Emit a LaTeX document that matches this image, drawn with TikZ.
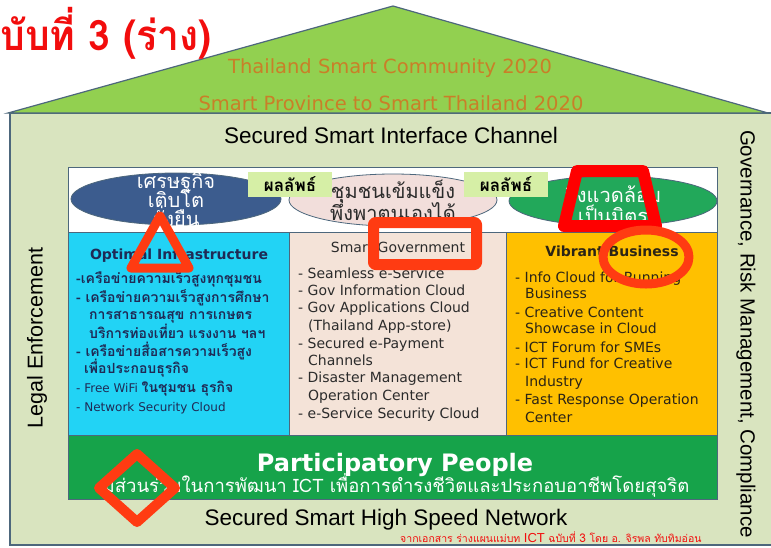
\documentclass[tikz,border=0pt]{standalone}
\usepackage{fontspec}
\setmainfont{Liberation Sans}
\newfontfamily\thaifont[Script=Thai]{Loma}
\newfontfamily\titlefont[Script=Thai,FakeStretch=0.93]{Loma}
\newfontfamily\tahfont{DejaVu Sans}
\usetikzlibrary{positioning}

\definecolor{roofgreen}{HTML}{92D050}
\definecolor{edgeblue}{HTML}{4D677C}
\definecolor{wallgreen}{HTML}{D9E4BF}
\definecolor{rooftext}{HTML}{C97F28}
\definecolor{ecoblue}{HTML}{3C5C8E}
\definecolor{commpink}{HTML}{F2DEDB}
\definecolor{envgreen}{HTML}{22A85A}
\definecolor{resultgreen}{HTML}{D6EFA6}
\definecolor{infracyan}{HTML}{22D3F5}
\definecolor{govpink}{HTML}{F4E3D8}
\definecolor{bizorange}{HTML}{FFC000}
\definecolor{peoplegreen}{HTML}{16A34A}
\definecolor{pennavy}{HTML}{1F2A55}
\definecolor{govgray}{HTML}{2B2B2B}
\definecolor{bizbrown}{HTML}{2B2416}
\definecolor{penred}{HTML}{FF3B12}
\definecolor{titlered}{HTML}{F20D0D}

\begin{document}
\begin{tikzpicture}[x=1pt,y=-1pt,
    txt/.style={inner sep=0pt,anchor=base},
    itemline/.style={inner sep=0pt,anchor=base west},
    wallbox/.style={draw=edgeblue,line width=1.2pt},
    pillarbox/.style={draw=edgeblue,line width=0.8pt},
    resultbox/.style={fill=resultgreen,inner sep=0pt,minimum width=84pt,minimum height=25pt,
      font=\thaifont\bfseries\fontsize{17}{17}\selectfont},
    redpen/.style={draw=penred,line width=9pt,line join=round}]
  \useasboundingbox (0,0) rectangle (771,547);
  \fill[white] (0,0) rectangle (771,547);                          % page

  \filldraw[wallbox,fill=wallgreen] (10,113) rectangle (790,545);   % house body
  \filldraw[wallbox,fill=roofgreen] (8,113) -- (393,6) -- (768,113) -- cycle; % roof

  \node[anchor=base west,inner sep=0pt,text=titlered,font=\titlefont\bfseries\fontsize{42}{43}\selectfont] (title) at (0,50) {บับที่ 3 (ร่าง)};
  \node[txt,text=rooftext,font=\tahfont\fontsize{19.5}{20}\selectfont] (roof1) at (390,73) {Thailand Smart Community 2020};
  \node[txt,text=rooftext,font=\tahfont\fontsize{19.5}{20}\selectfont] (roof2) at (391,110) {Smart Province to Smart Thailand 2020};

  \node[txt,font=\fontsize{22.5}{23}\selectfont] (interface) at (391,143) {Secured Smart Interface Channel};
  \node[txt,font=\fontsize{22.5}{23}\selectfont] (network) at (386,525) {Secured Smart High Speed Network};
  \node[font=\fontsize{21.5}{22}\selectfont,rotate=90,inner sep=0pt] (legal) at (37,338) {Legal Enforcement};
  \node[font=\fontsize{20.5}{22}\selectfont,rotate=-90,inner sep=0pt] (grc) at (746,334) {Governance, Risk Management, Compliance};

  % outcome row
  \filldraw[pillarbox,fill=white] (68,167) rectangle (717,232);
  \filldraw[pillarbox,fill=ecoblue] (176,199) ellipse (105 and 26);
  \filldraw[pillarbox,fill=commpink] (393,200) ellipse (104 and 26);
  \filldraw[pillarbox,fill=envgreen] (613,201) ellipse (104 and 25);

  \node[txt,text=white,font=\thaifont\fontsize{20}{20}\selectfont] (eco1) at (176,188) {เศรษฐกิจ};
  \node[txt,text=white,font=\thaifont\fontsize{20}{20}\selectfont] (eco2) at (176,207) {เติบโต};
  \node[txt,text=white,font=\thaifont\fontsize{20}{20}\selectfont] (eco3) at (176,226) {ยั่งยืน};
  \node[txt,text=govgray,font=\thaifont\fontsize{20}{20}\selectfont] (comm1) at (393,198) {ชุมชนเข้มแข็ง};
  \node[txt,text=govgray,font=\thaifont\fontsize{20}{20}\selectfont] (comm2) at (393,220) {พึ่งพาตนเองได้};
  \node[txt,text=white,font=\thaifont\fontsize{20}{20}\selectfont] (env1) at (613,202) {สิ่งแวดล้อม};
  \node[txt,text=white,font=\thaifont\fontsize{20}{20}\selectfont] (env2) at (613,223) {เป็นมิตร};

  \node[resultbox] (res1) at (290,184.5) {ผลลัพธ์};
  \node[resultbox] (res2) at (506,184.5) {ผลลัพธ์};

  % three pillars
  \filldraw[pillarbox,fill=infracyan] (68,232) rectangle (289,435);
  \filldraw[pillarbox,fill=govpink] (289,232) rectangle (506,435);
  \filldraw[pillarbox,fill=bizorange] (506,232) rectangle (717,435);

  \node[txt,text=pennavy,font=\tahfont\bfseries\fontsize{14}{15}\selectfont] (infra) at (179,259) {Optimal Infrastructure};
  \foreach \x/\y/\t [count=\i] in {76/283/{-เครือข่ายความเร็วสูงทุกชุมชน},
      76/302/{- เครือข่ายความเร็วสูงการศึกษา},
      89/319/{การสาธารณสุข การเกษตร},
      89/338/{บริการท่องเที่ยว แรงงาน ฯลฯ},
      76/356/{- เครือข่ายสื่อสารความเร็วสูง},
      84/373/{เพื่อประกอบธุรกิจ},
      76/392/{{\tahfont\mdseries\fontsize{12}{13}\selectfont - Free WiFi }ในชุมชน ธุรกิจ},
      76/411/{{\tahfont\mdseries\fontsize{12}{13}\selectfont - Network Security Cloud}}}
    \node[itemline,text=pennavy,font=\thaifont\bfseries\fontsize{14}{15}\selectfont] (infra\i) at (\x,\y) {\t};

  \node[txt,text=govgray,font=\tahfont\fontsize{14}{15}\selectfont] (gov) at (398,252) {Smart Government};
  \foreach \x/\y/\t [count=\i] in {298/278/{- Seamless e-Service},
      298/295/{- Gov Information Cloud},
      298/312/{- Gov Applications Cloud},
      308/330/{(Thailand App-store)},
      298/348/{- Secured e-Payment},
      308/365/{Channels},
      298/382/{- Disaster Management},
      308/400/{Operation Center},
      298/418/{- e-Service Security Cloud}}
    \node[itemline,text=govgray,font=\tahfont\fontsize{14}{15}\selectfont] (gov\i) at (\x,\y) {\t};

  \node[txt,text=bizbrown,font=\tahfont\bfseries\fontsize{14}{15}\selectfont] (biz) at (612,256) {Vibrant Business};
  \foreach \x/\y/\t [count=\i] in {515/282/{- Info Cloud for Running},
      525/298/{Business},
      515/317/{- Creative Content},
      525/333/{Showcase in Cloud},
      515/352/{- ICT Forum for SMEs},
      515/368/{- ICT Fund for Creative},
      525/386/{Industry},
      515/404/{- Fast Response Operation},
      525/422/{Center}}
    \node[itemline,text=bizbrown,font=\tahfont\fontsize{14}{15}\selectfont] (biz\i) at (\x,\y) {\t};

  % people band
  \filldraw[pillarbox,fill=peoplegreen] (68,435) rectangle (717,499);
  \node[txt,text=white,font=\tahfont\bfseries\fontsize{24}{25}\selectfont] (people) at (395,471) {Participatory People};
  \node[txt,text=white,font=\thaifont\fontsize{18.5}{19}\selectfont] (peopleth) at (396,492) {มีส่วนร่วมในการพัฒนา ICT เพื่อการดำรงชีวิตและประกอบอาชีพโดยสุจริต};

  \node[itemline,text=titlered,font=\thaifont\fontsize{10.5}{11}\selectfont] (source) at (400,542) {จากเอกสาร ร่างแผนแม่บท {\rmfamily\fontsize{13}{13}\selectfont ICT} ฉบับที่ {\fontsize{12}{12}\selectfont 3} โดย อ. จิรพล ทับทิมอ่อน};

  % red marks
  \draw[redpen] (160,216) -- (189,268) -- (131,268) -- cycle;                % triangle
  \draw[redpen,line width=11pt,rounded corners=2pt] (373.5,222.5) rectangle (476.5,264.5); % box
  \draw[redpen,draw=red,line width=12pt] (577,171) -- (643,171) -- (656,226) -- (564,226) -- cycle; % trapezoid
  \draw[redpen] (646,257) ellipse (43 and 27);                              % ring
  \draw[redpen,line width=10pt] (137,454) -- (175,488) -- (137,522) -- (99,488) -- cycle; % diamond
\end{tikzpicture}
\end{document}
